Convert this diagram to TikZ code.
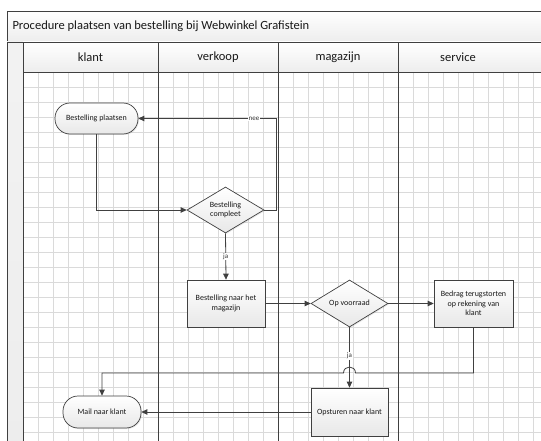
\documentclass[tikz,border=0pt]{standalone}
\usepackage{fontspec}
\setmainfont{Carlito}
\usetikzlibrary{arrows.meta,shapes.geometric,shadows}
\definecolor{ln}{HTML}{404040}
\definecolor{gridc}{HTML}{DADADA}
\definecolor{hdr}{HTML}{EDEDED}
\begin{document}
\begin{tikzpicture}[x=1pt,y=-1pt,
  shp/.style={draw=ln, line width=0.7pt, top color=white, bottom color=black!9,
    font=\fontsize{8}{9.5}\selectfont, text=black!90, align=center, inner sep=1pt,
    drop shadow={opacity=0.18, shadow xshift=1pt, shadow yshift=-1pt}},
  pill/.style={shp, rectangle, rounded corners=15pt},
  box/.style={shp, rectangle},
  dec/.style={shp, diamond, aspect=1.67, inner sep=0pt},
  conn/.style={draw=ln, line width=0.8pt, -{Triangle[length=6pt,width=5.5pt]}},
  lbl/.style={fill=white, inner sep=0.8pt, font=\fontsize{7}{8}\selectfont, text=black!80},
  lane/.style={draw=ln, line width=0.8pt},
  gridline/.style={draw=gridc, line width=0.6pt},
  hdrtxt/.style={font=\fontsize{12.5}{14}\selectfont, text=black!90}]
\useasboundingbox (0,0) rectangle (541,441);
\begin{scope}
\clip (0,0) rectangle (541,441);
% grid
\foreach \i in {0,...,35} \draw[gridline] (23+15*\i,72) -- (23+15*\i,450);
\foreach \j in {0,...,25} \draw[gridline] (23,72+15*\j) -- (560,72+15*\j);
% title bar
\draw[lane, top color=white, bottom color=hdr] (7,11) rectangle (570,42);
\node[hdrtxt, anchor=west] (title) at (9,26.5) {Procedure plaatsen van bestelling bij Webwinkel Grafistein};
% left strip
\draw[lane, top color=white!95!black, bottom color=hdr] (7,42) rectangle (23,460);
% header row
\draw[lane, top color=white, bottom color=hdr] (23,42) rectangle (570,72);
\foreach \x in {158,278,398} \draw[lane] (\x,42) -- (\x,460);
\node[hdrtxt] (h1) at (90.5,57) {klant};
\node[hdrtxt] (h2) at (218,57) {verkoop};
\node[hdrtxt] (h3) at (338,57) {magazijn};
\node[hdrtxt] (h4) at (458,57) {service};
% nodes
\node[pill, minimum width=83pt, minimum height=31pt] (p1) at (96.5,118.5) {Bestelling plaatsen};
\node[dec, minimum width=77pt, minimum height=46pt] (d1) at (225.5,210) {Bestelling\\compleet};
\node[box, minimum width=78pt, minimum height=47pt] (b1) at (226,303.5) {Bestelling naar het\\magazijn};
\node[dec, minimum width=77pt, minimum height=47pt] (d2) at (349.5,303.5) {Op voorraad};
\node[box, minimum width=79pt, minimum height=47pt] (b2) at (473.5,303.5) {Bedrag terugstorten\\op rekening van\\klant};
\node[box, minimum width=77pt, minimum height=48pt] (b3) at (349.5,412) {Opsturen naar klant};
\node[pill, minimum width=78pt, minimum height=32pt] (p2) at (102,412) {Mail naar klant};
% connectors
\draw[conn] (p1.south) |- (d1.west);
\coordinate (nr) at (276,210);
\draw[conn] (d1.east) -- (nr) |- node[lbl, pos=0.58]{nee} (p1.east);
\draw[conn] (d1.south) -- node[lbl]{ja} (b1.north);
\draw[conn] (b1.east) -- (d2.west);
\draw[conn] (d2.east) -- (b2.west);
\draw[conn] (d2.south) -- node[lbl, pos=0.47]{ja} (b3.north);
\coordinate (k1) at (473.5,373);
\coordinate (h1r) at (355.5,373);
\coordinate (h1l) at (343.5,373);
\coordinate (k2) at (102,373);
\draw[conn] (b2.south) -- (k1) -- (h1r) .. controls (355.5,365) and (343.5,365) .. (h1l) -- (k2) -- (p2.north);
\draw[conn] (b3.west) -- (p2.east);
\end{scope}
\end{tikzpicture}
\end{document}
